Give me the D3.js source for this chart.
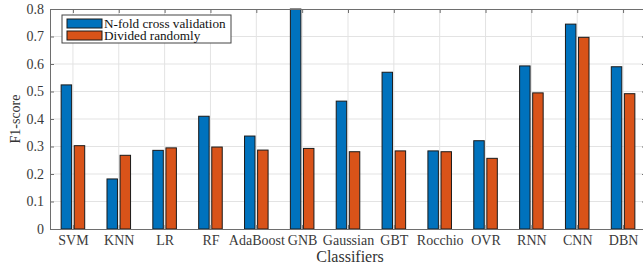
<!DOCTYPE html>
<html>
<head>
<meta charset="utf-8">
<script src="https://cdn.jsdelivr.net/npm/d3@7"></script>
<style>
  body { margin: 0; background: #fff; }
</style>
</head>
<body>
<div class="chart"></div>
<script>
// classifiers on the x axis
const classifiers = ['SVM', 'KNN', 'LR', 'RF', 'AdaBoost', 'GNB', 'Gaussian', 'GBT', 'Rocchio', 'OVR', 'RNN', 'CNN', 'DBN'];
// F1-score per classifier
const nFold = [0.524, 0.182, 0.286, 0.410, 0.338, 0.800, 0.465, 0.570, 0.284, 0.321, 0.593, 0.745, 0.590];
const divided = [0.303, 0.268, 0.295, 0.298, 0.287, 0.293, 0.281, 0.284, 0.281, 0.257, 0.495, 0.697, 0.492];
const seriesNames = ['N-fold cross validation', 'Divided randomly'];
const seriesColors = ['#0072BD', '#D95319'];
const yTicks = [0, 0.1, 0.2, 0.3, 0.4, 0.5, 0.6, 0.7, 0.8];

const FONT = "'Liberation Serif', serif";
const width = 643, height = 264;
// the right border of the axes box falls just outside the picture
let margin = {top: 9, right: -3, bottom: 35, left: 50};
let innerW = width - margin.left - margin.right;
let innerH = height - margin.top - margin.bottom;

const svg = d3.select('.chart').append('svg')
	.attr('width', width)
	.attr('height', height)
	.style('font-family', FONT);

const chart = svg.append('g')
	.attr('transform', 'translate(' + margin.left + ',' + margin.top + ')');

// categories at 1..13, limits 0.5..13.5 like the original
const x = d3.scaleLinear().domain([0.5, classifiers.length + 0.5]).range([0, innerW]);
const y = d3.scaleLinear().domain([0, 0.8]).range([innerH, 0]);
const step = x(2) - x(1);
const barW = step * 0.571 / 2 * 0.8;
const offset = step * 0.571 / 4;

// grid
chart.append('g')
	.selectAll('line')
	.data(yTicks.slice(1, -1))
	.enter().append('line')
		.attr('x1', 0).attr('x2', innerW)
		.attr('y1', function(d){ return y(d) }).attr('y2', function(d){ return y(d) })
		.style('stroke', '#e3e3e3').style('stroke-width', 1);

chart.append('g')
	.selectAll('line')
	.data(classifiers)
	.enter().append('line')
		.attr('x1', function(d, i){ return x(i + 1) }).attr('x2', function(d, i){ return x(i + 1) })
		.attr('y1', 0).attr('y2', innerH)
		.style('stroke', '#e3e3e3').style('stroke-width', 1);

// bars
const series = [nFold, divided];
series.forEach(function(values, s){
	chart.append('g')
		.selectAll('rect')
		.data(values)
		.enter().append('rect')
			.attr('x', function(d, i){ return x(i + 1) + (s === 0 ? -offset : offset) - barW / 2 })
			.attr('y', function(d){ return y(d) })
			.attr('width', barW)
			.attr('height', function(d){ return innerH - y(d) })
			.style('fill', seriesColors[s])
			.style('stroke', '#1a1a1a')
			.style('stroke-width', 1);
});

// axes
const yAxis = d3.axisLeft(y).tickValues(yTicks).tickSize(-4).tickPadding(6)
	.tickFormat(function(d){ return d === 0 ? '0' : d3.format('.1f')(d) });
const yAxisRight = d3.axisRight(y).tickValues(yTicks).tickSize(-4).tickFormat('');
const xAxis = d3.axisBottom(x).tickValues(d3.range(1, classifiers.length + 1)).tickSize(-4).tickPadding(6)
	.tickFormat(function(d){ return classifiers[d - 1] });
const xAxisTop = d3.axisTop(x).tickValues(d3.range(1, classifiers.length + 1)).tickSize(-4).tickFormat('');

const gy = chart.append('g').call(yAxis);
const gyr = chart.append('g').attr('transform', 'translate(' + innerW + ',0)').call(yAxisRight);
const gx = chart.append('g').attr('transform', 'translate(0,' + innerH + ')').call(xAxis);
const gxt = chart.append('g').call(xAxisTop);

[gy, gyr, gx, gxt].forEach(function(g){
	g.attr('font-family', null).attr('font-size', 14);
	g.select('.domain').style('stroke', '#6e6e6e').style('stroke-width', 1);
	g.selectAll('.tick line').style('stroke', '#6e6e6e');
	g.selectAll('.tick text').style('fill', '#3a3a3a');
});

// axis titles
svg.append('text')
	.attr('x', 350)
	.attr('y', 262)
	.style('text-anchor', 'middle')
	.style('font-size', '16px')
	.style('fill', '#333')
	.text('Classifiers');

svg.append('text')
	.attr('transform', 'translate(20,' + (margin.top + innerH / 2) + ') rotate(-90)')
	.style('text-anchor', 'middle')
	.style('font-size', '14px')
	.style('fill', '#333')
	.text('F1-score');

// legend
const legend = svg.append('g').attr('transform', 'translate(62,15)');
legend.append('rect')
	.attr('width', 169).attr('height', 28)
	.style('fill', '#fff').style('stroke', '#444').style('stroke-width', 1);

legend.selectAll('g.item')
	.data(seriesNames)
	.enter().append('g')
		.attr('class', 'item')
		.attr('transform', function(d, i){ return 'translate(5,' + (4 + i * 12) + ')' })
		.each(function(d, i){
			const item = d3.select(this);
			item.append('rect')
				.attr('width', 35).attr('height', 9)
				.style('fill', seriesColors[i]).style('stroke', '#1a1a1a').style('stroke-width', 1);
			item.append('text')
				.attr('x', 37).attr('y', 9)
				.style('font-size', '13.2px')
				.style('fill', '#111')
				.text(d);
		});
</script>
</body>
</html>
